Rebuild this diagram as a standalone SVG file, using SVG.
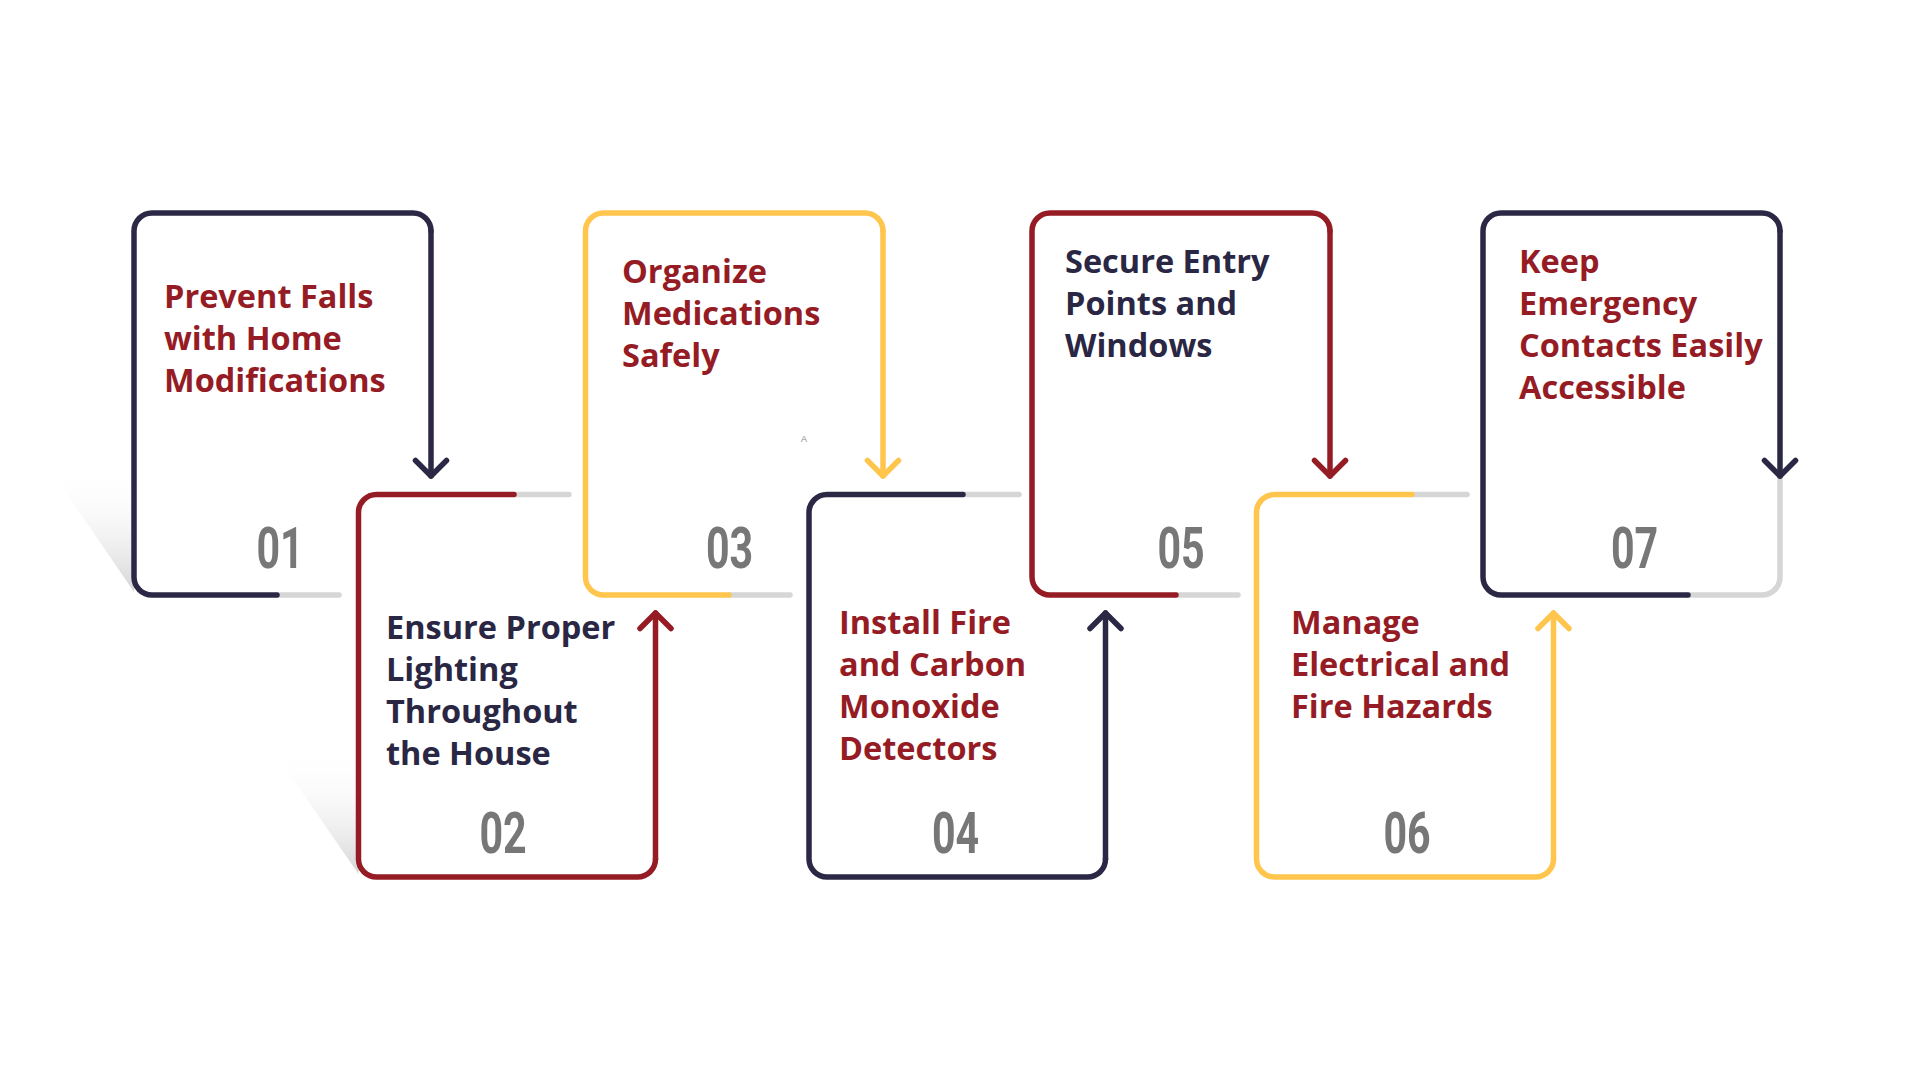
<svg xmlns="http://www.w3.org/2000/svg" width="1920" height="1080" viewBox="0 0 1920 1080">
  <defs>
    <linearGradient id="shadow" x1="0" y1="0" x2="0" y2="1">
      <stop offset="0" stop-color="#ffffff" stop-opacity="0"/>
      <stop offset="1" stop-color="#d6d6d6" stop-opacity="1"/>
    </linearGradient>
    <marker id="ah-navy" viewBox="-20 -20 24 40" refX="0" refY="0" markerWidth="24" markerHeight="40" markerUnits="userSpaceOnUse" orient="auto">
      <path d="M-15.5,-15.5 L0,0 L-15.5,15.5" fill="none" stroke="#2b2845" stroke-width="5.5" stroke-linecap="round" stroke-linejoin="round"/>
    </marker>
    <marker id="ah-red" viewBox="-20 -20 24 40" refX="0" refY="0" markerWidth="24" markerHeight="40" markerUnits="userSpaceOnUse" orient="auto">
      <path d="M-15.5,-15.5 L0,0 L-15.5,15.5" fill="none" stroke="#951c24" stroke-width="5.5" stroke-linecap="round" stroke-linejoin="round"/>
    </marker>
    <marker id="ah-yellow" viewBox="-20 -20 24 40" refX="0" refY="0" markerWidth="24" markerHeight="40" markerUnits="userSpaceOnUse" orient="auto">
      <path d="M-15.5,-15.5 L0,0 L-15.5,15.5" fill="none" stroke="#ffc54d" stroke-width="5.5" stroke-linecap="round" stroke-linejoin="round"/>
    </marker>
  </defs>
  <style>
    .ln { fill: none; stroke-width: 5.5; stroke-linecap: round; stroke-linejoin: round; }
    .navy { stroke: #2b2845; }
    .red { stroke: #951c24; }
    .yellow { stroke: #ffc54d; }
    .grey { stroke: #d6d6d6; }
    .title { font-family: "Open Sans", "Noto Sans", "Liberation Sans", sans-serif; font-weight: 700; font-size: 32.5px; }
    .t-red { fill: #951c24; }
    .t-navy { fill: #2a2744; }
    .num { font-family: Roboto, "Liberation Sans", sans-serif; font-weight: 700; font-size: 58px; fill: #777777; text-anchor: middle; }
    .shadow { fill: url(#shadow); }
  </style>
  <rect width="1920" height="1080" fill="#ffffff"/>

  <polygon class="shadow" points="48,466 134,466 134,592"/>
  <polygon class="shadow" points="273,750 358.5,750 358.5,874"/>

  <g id="node-01">
    <path class="ln grey" d="M277,595 H339"/>
    <path class="ln navy" d="M277,595 H152 A18,18 0 0 1 134,577 V231 A18,18 0 0 1 152,213 H413 A18,18 0 0 1 431,231"/>
    <text class="title t-red" x="164" y="308"><tspan x="164">Prevent Falls</tspan><tspan x="164" dy="42">with Home</tspan><tspan x="164" dy="42">Modifications</tspan></text>
    <text class="num" transform="translate(280,568) scale(0.71,1)">01</text>
  </g>

  <g id="node-02">
    <path class="ln grey" d="M514,494.5 H569"/>
    <path class="ln red" d="M514,494.5 H376.5 A18,18 0 0 0 358.5,512.5 V859 A18,18 0 0 0 376.5,877 H637.5 A18,18 0 0 0 655.5,859"/>
    <text class="title t-navy" x="386" y="639"><tspan x="386">Ensure Proper</tspan><tspan x="386" dy="42">Lighting</tspan><tspan x="386" dy="42">Throughout</tspan><tspan x="386" dy="42">the House</tspan></text>
    <text class="num" transform="translate(503,853) scale(0.71,1)">02</text>
  </g>

  <g id="node-03">
    <path class="ln grey" d="M729,595 H790"/>
    <path class="ln yellow" d="M729,595 H603.5 A18,18 0 0 1 585.5,577 V231 A18,18 0 0 1 603.5,213 H865 A18,18 0 0 1 883,231"/>
    <text class="title t-red" x="622" y="283"><tspan x="622">Organize</tspan><tspan x="622" dy="42">Medications</tspan><tspan x="622" dy="42">Safely</tspan></text>
    <text class="num" transform="translate(729.5,568) scale(0.71,1)">03</text>
    <text x="804" y="442" font-family="Liberation Sans, sans-serif" font-size="9" fill="#8a8a8a" text-anchor="middle">A</text>
  </g>

  <g id="node-04">
    <path class="ln grey" d="M963,494.5 H1019"/>
    <path class="ln navy" d="M963,494.5 H827 A18,18 0 0 0 809,512.5 V859 A18,18 0 0 0 827,877 H1087.5 A18,18 0 0 0 1105.5,859"/>
    <text class="title t-red" x="839" y="634"><tspan x="839">Install Fire</tspan><tspan x="839" dy="42">and Carbon</tspan><tspan x="839" dy="42">Monoxide</tspan><tspan x="839" dy="42">Detectors</tspan></text>
    <text class="num" transform="translate(955.5,853) scale(0.71,1)">04</text>
  </g>

  <g id="node-05">
    <path class="ln grey" d="M1176,595 H1238"/>
    <path class="ln red" d="M1176,595 H1050 A18,18 0 0 1 1032,577 V231 A18,18 0 0 1 1050,213 H1312 A18,18 0 0 1 1330,231"/>
    <text class="title t-navy" x="1065" y="273"><tspan x="1065">Secure Entry</tspan><tspan x="1065" dy="42">Points and</tspan><tspan x="1065" dy="42">Windows</tspan></text>
    <text class="num" transform="translate(1181,568) scale(0.71,1)">05</text>
  </g>

  <g id="node-06">
    <path class="ln grey" d="M1412,494.5 H1467"/>
    <path class="ln yellow" d="M1412,494.5 H1274.5 A18,18 0 0 0 1256.5,512.5 V859 A18,18 0 0 0 1274.5,877 H1535.5 A18,18 0 0 0 1553.5,859"/>
    <text class="title t-red" x="1291" y="634"><tspan x="1291">Manage</tspan><tspan x="1291" dy="42">Electrical and</tspan><tspan x="1291" dy="42">Fire Hazards</tspan></text>
    <text class="num" transform="translate(1407,853) scale(0.71,1)">06</text>
  </g>

  <g id="node-07">
    <path class="ln grey" d="M1780,478 V577 A18,18 0 0 1 1762,595 H1688"/>
    <path class="ln navy" d="M1688,595 H1501 A18,18 0 0 1 1483,577 V231 A18,18 0 0 1 1501,213 H1762 A18,18 0 0 1 1780,231"/>
    <text class="title t-red" x="1519" y="273"><tspan x="1519">Keep</tspan><tspan x="1519" dy="42">Emergency</tspan><tspan x="1519" dy="42">Contacts Easily</tspan><tspan x="1519" dy="42">Accessible</tspan></text>
    <text class="num" transform="translate(1634.5,568) scale(0.71,1)">07</text>
  </g>

  <g id="connectors">
    <path class="ln navy" d="M431,231 V476" marker-end="url(#ah-navy)"/>
    <path class="ln red" d="M655.5,859 V613" marker-end="url(#ah-red)"/>
    <path class="ln yellow" d="M883,231 V476" marker-end="url(#ah-yellow)"/>
    <path class="ln navy" d="M1105.5,859 V613" marker-end="url(#ah-navy)"/>
    <path class="ln red" d="M1330,231 V476" marker-end="url(#ah-red)"/>
    <path class="ln yellow" d="M1553.5,859 V613" marker-end="url(#ah-yellow)"/>
    <path class="ln navy" d="M1780,231 V476" marker-end="url(#ah-navy)"/>
  </g>
</svg>
